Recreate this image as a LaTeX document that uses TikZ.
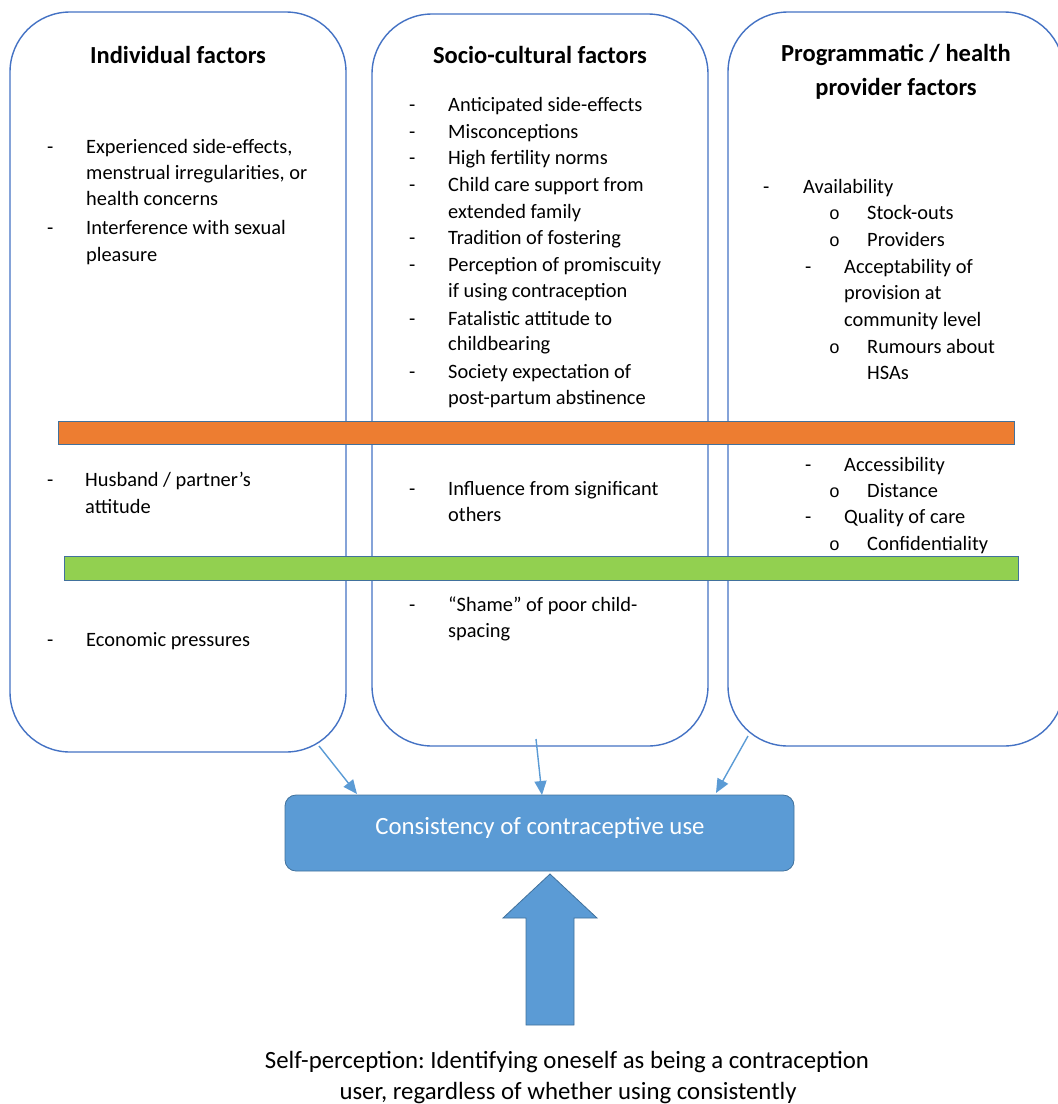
\documentclass[tikz,border=0pt]{standalone}
\usepackage{fontspec}
\setmainfont{Carlito}
\newfontfamily\monofont{Liberation Mono}
\usetikzlibrary{arrows.meta}
\frenchspacing
\definecolor{boxline}{HTML}{4472C4}
\definecolor{accent}{HTML}{5B9BD5}
\definecolor{accentdark}{HTML}{41719C}
\definecolor{barorange}{HTML}{ED7D31}
\definecolor{bargreen}{HTML}{92D050}
\begin{document}
\begin{tikzpicture}[x=1pt,y=-1pt,
  colbox/.style={draw=boxline,line width=1.4pt,fill=white,rounded corners=60pt},
  band/.style={draw=accentdark,line width=0.8pt},
  txt/.style={inner sep=0pt,anchor=base west,font=\fontsize{20.4}{24}\selectfont},
  hd/.style={inner sep=0pt,anchor=base,font=\bfseries\fontsize{24.5}{28}\selectfont},
  dsh/.style={inner sep=0pt,anchor=base west,font=\fontsize{20.4}{24}\selectfont},
  circ/.style={inner sep=0pt,anchor=base west,font=\monofont\fontsize{18}{20}\selectfont},
  feed/.style={draw=accent,line width=1.4pt,-{Triangle[length=14pt,width=12pt]}},
  result/.style={draw=accentdark,line width=0.8pt,fill=accent,rounded corners=11pt},
  bottomtxt/.style={inner sep=0pt,anchor=base,font=\fontsize{24.8}{28}\selectfont}]
\useasboundingbox (0,0) rectangle (1058,1104);

% three factor columns
\draw[colbox] (10,12) rectangle (346,752);
\draw[colbox] (372,14) rectangle (708,746);
\draw[colbox] (728,12) rectangle (1064,746);

% horizontal bands
\draw[band,fill=barorange] (58,421) rectangle (1014,444);
\draw[band,fill=bargreen] (64,556) rectangle (1018,580);

% ---- Individual factors
\node[hd] (ihd) at (178,63) {Individual factors};
\node[dsh] (id1) at (47,153) {-};
\node[txt] (i1) at (86,153) {Experienced side-effects,};
\node[txt] (i2) at (86,179) {menstrual irregularities, or};
\node[txt] (i3) at (86,205) {health concerns};
\node[dsh] (id2) at (47,234) {-};
\node[txt] (i4) at (86,234) {Interference with sexual};
\node[txt] (i5) at (86,261) {pleasure};
\node[dsh] (id3) at (47,486) {-};
\node[txt] (i6) at (85,486) {Husband / partner’s};
\node[txt] (i7) at (85,513) {attitude};
\node[dsh] (id4) at (47,646) {-};
\node[txt] (i8) at (86,646) {Economic pressures};

% ---- Socio-cultural factors
\node[hd] (shd) at (540,63) {Socio-cultural factors};
\foreach \t/\y [count=\k] in {Anticipated side-effects/111, Misconceptions/138,
    High fertility norms/164, Child care support from/191, extended family/218,
    Tradition of fostering/244, Perception of promiscuity/271,
    if using contraception/297, Fatalistic attitude to/325, childbearing/350,
    Society expectation of/378, post-partum abstinence/404,
    Influence from significant/495, others/521,
    “Shame” of poor child-/611, spacing/637}
  \node[txt] (s\k) at (448,\y) {\t};
\foreach \y [count=\k] in {111,138,164,191,244,271,325,378,495,611}
  \node[dsh] (sd\k) at (409,\y) {-};

% ---- Programmatic / health provider factors
\node[hd] (phd1) at (896,61) {Programmatic / health};
\node[hd] (phd2) at (896,95) {provider factors};
\node[dsh] (pd1) at (763,193) {-};
\node[txt] (p1) at (803,193) {Availability};
\node[circ] (pc1) at (829,219) {o};
\node[txt] (p2) at (867,219) {Stock-outs};
\node[circ] (pc2) at (829,246) {o};
\node[txt] (p3) at (867,246) {Providers};
\node[dsh] (pd2) at (805,273) {-};
\node[txt] (p4) at (844,273) {Acceptability of};
\node[txt] (p5) at (844,299) {provision at};
\node[txt] (p6) at (844,326) {community level};
\node[circ] (pc3) at (829,353) {o};
\node[txt] (p7) at (867,353) {Rumours about};
\node[txt] (p8) at (867,379) {HSAs};
\node[dsh] (pd3) at (805,471) {-};
\node[txt] (p9) at (844,471) {Accessibility};
\node[circ] (pc4) at (829,497) {o};
\node[txt] (p10) at (867,497) {Distance};
\node[dsh] (pd4) at (805,523) {-};
\node[txt] (p11) at (844,523) {Quality of care};
\node[circ] (pc5) at (829,550) {o};
\node[txt] (p12) at (867,550) {Confidentiality};

% ---- outcome box
\draw[result] (285,795) rectangle (794,871);
\node[inner sep=0pt,anchor=base,text=white,font=\fontsize{24.8}{28}\selectfont] (cons) at (540,834) {Consistency of contraceptive use};

% feeding arrows from the columns
\coordinate (fa1) at (319,746);
\coordinate (fb1) at (357,794);
\coordinate (fa2) at (536,739);
\coordinate (fb2) at (542,795);
\coordinate (fa3) at (748,736);
\coordinate (fb3) at (716,793);
\draw[feed] (fa1) -- (fb1);
\draw[feed] (fa2) -- (fb2);
\draw[feed] (fa3) -- (fb3);

% block arrow from self-perception
\draw[draw=accentdark,line width=0.8pt,fill=accent]
  (526,1025) -- (526,918) -- (503,918) -- (550,874) -- (597,918)
  -- (574,918) -- (574,1025) -- cycle;

\node[bottomtxt] (sp1) at (567,1068) {Self-perception: Identifying oneself as being a contraception};
\node[bottomtxt] (sp2) at (568,1099) {user, regardless of whether using consistently};
\end{tikzpicture}
\end{document}
